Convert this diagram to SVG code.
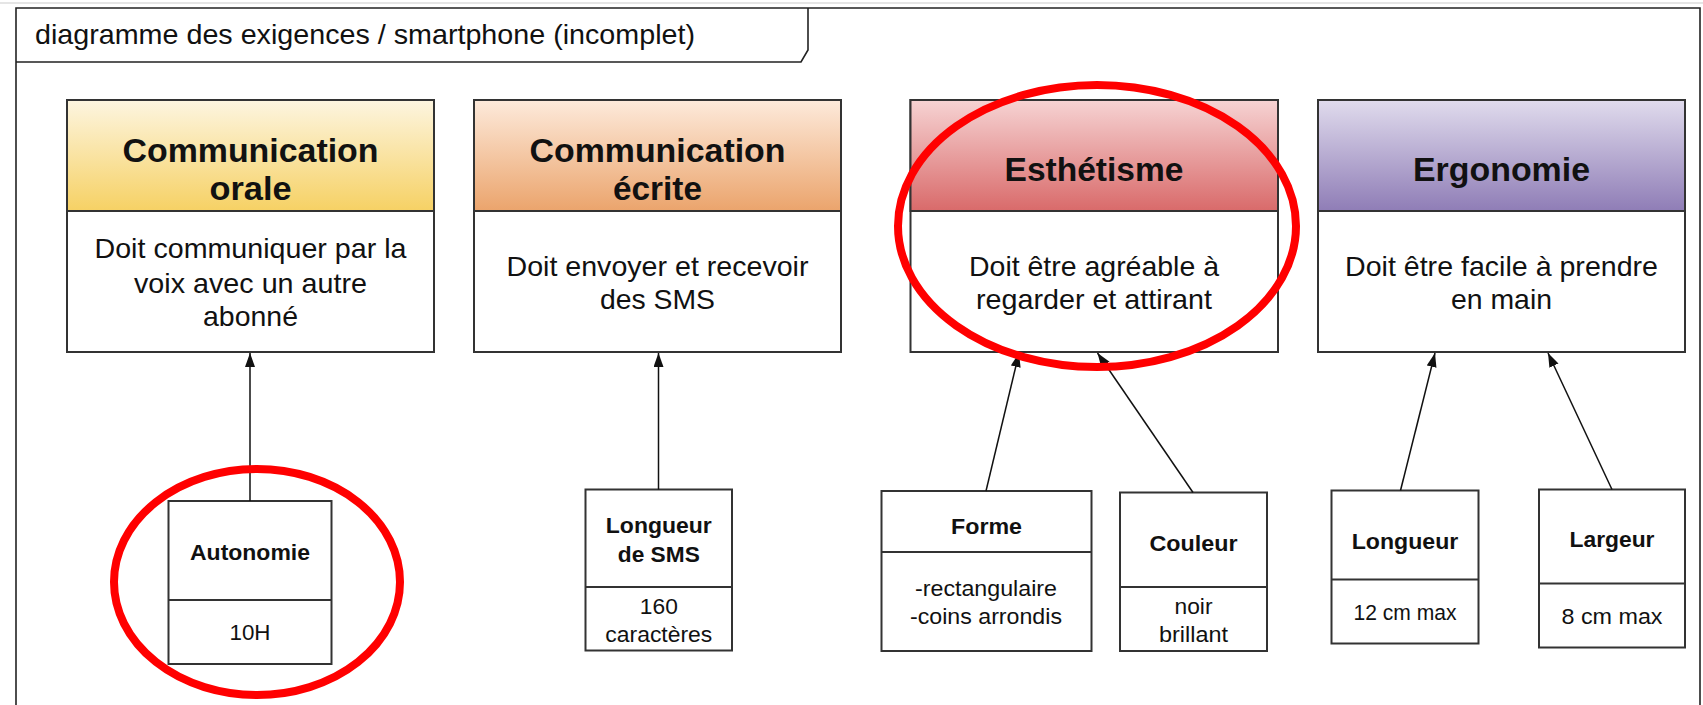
<svg xmlns="http://www.w3.org/2000/svg" width="1703" height="705" viewBox="0 0 1703 705">
<style>
.frame{fill:none;stroke:#222;stroke-width:1.6}
.box{fill:#fff;stroke:#333;stroke-width:2}
.hdr{stroke:#333;stroke-width:2}
.div{stroke:#333;stroke-width:2}
.t{font-family:"Liberation Sans",Arial,sans-serif;fill:#111;text-anchor:middle}
.h{font-size:33.5px;font-weight:bold}
.b{font-size:28px}
.sb{font-size:22.5px;font-weight:bold}
.s{font-size:22.5px}
.title{font-family:"Liberation Sans",Arial,sans-serif;font-size:28px;fill:#111}
.conn line{stroke:#111;stroke-width:1.5;marker-end:url(#arr)}
.mark{fill:none;stroke:#ff0000;stroke-width:8}
</style>
<defs>
<linearGradient id="gY" x1="0" y1="0" x2="0" y2="1"><stop offset="0" stop-color="#fdf5e0"/><stop offset="1" stop-color="#f6d164"/></linearGradient>
<linearGradient id="gO" x1="0" y1="0" x2="0" y2="1"><stop offset="0" stop-color="#fdeadb"/><stop offset="1" stop-color="#eba46c"/></linearGradient>
<linearGradient id="gR" x1="0" y1="0" x2="0" y2="1"><stop offset="0" stop-color="#f6d3d3"/><stop offset="1" stop-color="#d96a6a"/></linearGradient>
<linearGradient id="gP" x1="0" y1="0" x2="0" y2="1"><stop offset="0" stop-color="#e0dbed"/><stop offset="1" stop-color="#8f7db6"/></linearGradient>
<marker id="arr" markerUnits="userSpaceOnUse" markerWidth="16" markerHeight="12" refX="14" refY="5" orient="auto"><path d="M0,0 L14,5 L0,10 z" fill="#111"/></marker>
</defs>
<rect width="1703" height="705" fill="#fff"/>
<line x1="0" y1="3" x2="1703" y2="3" stroke="#ddd" stroke-width="1.5"/>
<g id="frame">
<path class="frame" d="M16,705 V8 H1700 V705"/>
<path class="frame" d="M16,62 H801 L808,50 V8"/>
<text class="title" x="35" y="44" textLength="660" lengthAdjust="spacingAndGlyphs">diagramme des exigences / smartphone (incomplet)</text>
</g>
<g id="req-communication-orale">
<rect class="box" x="67" y="100" width="367" height="252"/>
<rect class="hdr" x="67" y="100" width="367" height="111" fill="url(#gY)"/>
<text class="t h" x="250.5" y="161.5" textLength="256" lengthAdjust="spacingAndGlyphs">Communication</text>
<text class="t h" x="250.5" y="200" textLength="82" lengthAdjust="spacingAndGlyphs">orale</text>
<text class="t b" x="250.5" y="258" textLength="312" lengthAdjust="spacingAndGlyphs">Doit communiquer par la</text>
<text class="t b" x="250.5" y="292.5" textLength="233" lengthAdjust="spacingAndGlyphs">voix avec un autre</text>
<text class="t b" x="250.5" y="325.5" textLength="95" lengthAdjust="spacingAndGlyphs">abonné</text>
</g>
<g id="req-communication-ecrite">
<rect class="box" x="474" y="100" width="367" height="252"/>
<rect class="hdr" x="474" y="100" width="367" height="111" fill="url(#gO)"/>
<text class="t h" x="657.5" y="161.5" textLength="256" lengthAdjust="spacingAndGlyphs">Communication</text>
<text class="t h" x="657.5" y="200" textLength="89" lengthAdjust="spacingAndGlyphs">écrite</text>
<text class="t b" x="657.5" y="276" textLength="302" lengthAdjust="spacingAndGlyphs">Doit envoyer et recevoir</text>
<text class="t b" x="657.5" y="308.5" textLength="115" lengthAdjust="spacingAndGlyphs">des SMS</text>
</g>
<g id="req-esthetisme">
<rect class="box" x="910.5" y="100" width="367.5" height="252"/>
<rect class="hdr" x="910.5" y="100" width="367.5" height="111" fill="url(#gR)"/>
<text class="t h" x="1094" y="181" textLength="179" lengthAdjust="spacingAndGlyphs">Esthétisme</text>
<text class="t b" x="1094" y="276" textLength="250" lengthAdjust="spacingAndGlyphs">Doit être agréable à</text>
<text class="t b" x="1094" y="308.5" textLength="236" lengthAdjust="spacingAndGlyphs">regarder et attirant</text>
</g>
<g id="req-ergonomie">
<rect class="box" x="1318" y="100" width="367" height="252"/>
<rect class="hdr" x="1318" y="100" width="367" height="111" fill="url(#gP)"/>
<text class="t h" x="1501.5" y="181" textLength="177" lengthAdjust="spacingAndGlyphs">Ergonomie</text>
<text class="t b" x="1501.5" y="276" textLength="313" lengthAdjust="spacingAndGlyphs">Doit être facile à prendre</text>
<text class="t b" x="1501.5" y="308.5" textLength="101" lengthAdjust="spacingAndGlyphs">en main</text>
</g>
<g id="blk-autonomie">
<rect class="box" x="168.5" y="501" width="163" height="163"/>
<line class="div" x1="168.5" y1="600" x2="331.5" y2="600"/>
<text class="t sb" x="250" y="560" textLength="120" lengthAdjust="spacingAndGlyphs">Autonomie</text>
<text class="t s" x="250" y="640" textLength="41" lengthAdjust="spacingAndGlyphs">10H</text>
</g>
<g id="blk-longueur-sms">
<rect class="box" x="585.5" y="489.5" width="146.5" height="161"/>
<line class="div" x1="585.5" y1="587" x2="732" y2="587"/>
<text class="t sb" x="658.8" y="533" textLength="106" lengthAdjust="spacingAndGlyphs">Longueur</text>
<text class="t sb" x="658.8" y="562" textLength="82" lengthAdjust="spacingAndGlyphs">de SMS</text>
<text class="t s" x="658.8" y="614" textLength="38" lengthAdjust="spacingAndGlyphs">160</text>
<text class="t s" x="658.8" y="642" textLength="107" lengthAdjust="spacingAndGlyphs">caractères</text>
</g>
<g id="blk-forme">
<rect class="box" x="881.5" y="491" width="210" height="160"/>
<line class="div" x1="881.5" y1="552" x2="1091.5" y2="552"/>
<text class="t sb" x="986.5" y="534" textLength="71" lengthAdjust="spacingAndGlyphs">Forme</text>
<text class="t s" x="986" y="596" textLength="142" lengthAdjust="spacingAndGlyphs">-rectangulaire</text>
<text class="t s" x="986" y="624" textLength="152" lengthAdjust="spacingAndGlyphs">-coins arrondis</text>
</g>
<g id="blk-couleur">
<rect class="box" x="1120" y="492.5" width="147" height="158.5"/>
<line class="div" x1="1120" y1="587" x2="1267" y2="587"/>
<text class="t sb" x="1193.5" y="551" textLength="88" lengthAdjust="spacingAndGlyphs">Couleur</text>
<text class="t s" x="1193.5" y="613.5" textLength="38" lengthAdjust="spacingAndGlyphs">noir</text>
<text class="t s" x="1193.5" y="642" textLength="69" lengthAdjust="spacingAndGlyphs">brillant</text>
</g>
<g id="blk-longueur">
<rect class="box" x="1331.5" y="490.5" width="147" height="153"/>
<line class="div" x1="1331.5" y1="579.5" x2="1478.5" y2="579.5"/>
<text class="t sb" x="1405" y="548.5" textLength="106.6" lengthAdjust="spacingAndGlyphs">Longueur</text>
<text class="t s" x="1405" y="619.5" textLength="103" lengthAdjust="spacingAndGlyphs">12 cm max</text>
</g>
<g id="blk-largeur">
<rect class="box" x="1539" y="489.5" width="146" height="158"/>
<line class="div" x1="1539" y1="583.5" x2="1685" y2="583.5"/>
<text class="t sb" x="1612" y="547" textLength="85" lengthAdjust="spacingAndGlyphs">Largeur</text>
<text class="t s" x="1612" y="623.5" textLength="101" lengthAdjust="spacingAndGlyphs">8 cm max</text>
</g>
<g id="connectors" class="conn">
<line x1="250" y1="501" x2="250" y2="353"/>
<line x1="658.5" y1="489.5" x2="658.5" y2="353"/>
<line x1="986" y1="491" x2="1019" y2="353"/>
<line x1="1193" y1="492.5" x2="1097.5" y2="353"/>
<line x1="1400.5" y1="490.5" x2="1435" y2="353"/>
<line x1="1612" y1="489.5" x2="1548" y2="353"/>
</g>
<g id="highlights">
<ellipse class="mark" cx="257" cy="582" rx="143" ry="113"/>
<ellipse class="mark" cx="1097" cy="226" rx="199" ry="141"/>
</g>
</svg>
